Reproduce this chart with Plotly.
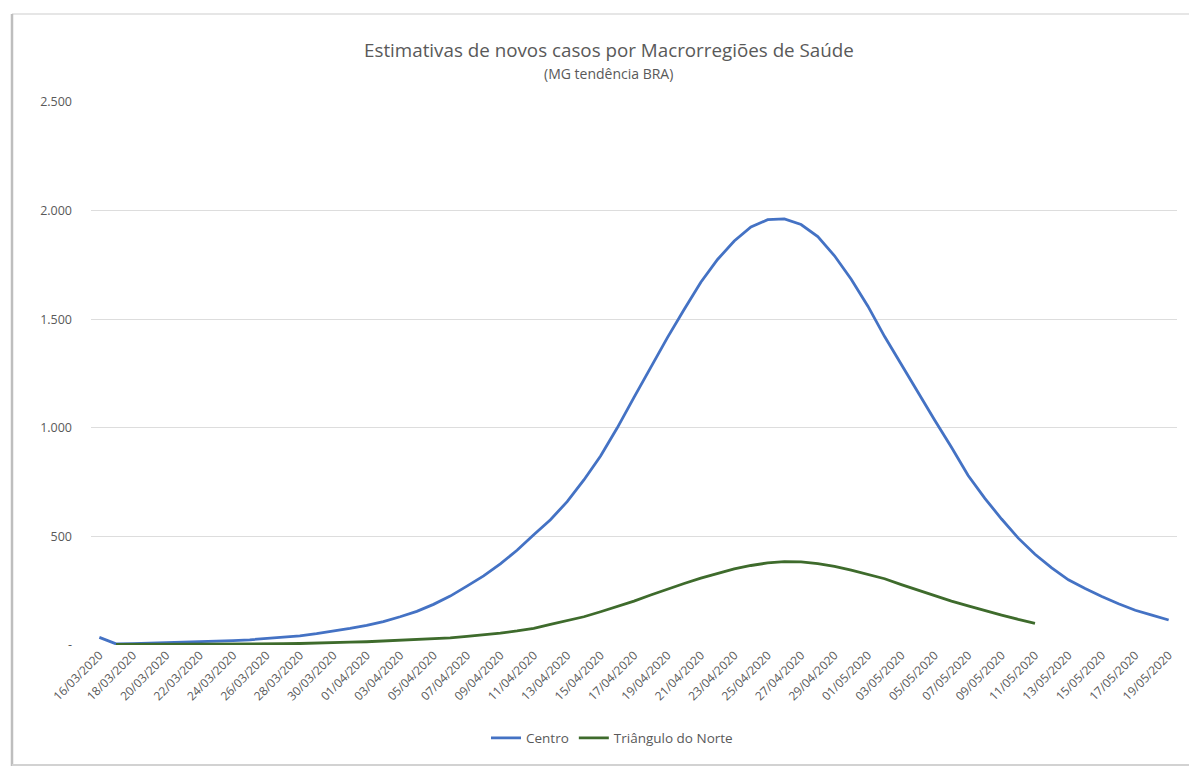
import datetime as dt
import plotly.graph_objects as go

# ---- data ----
start = dt.date(2020, 3, 16)
n_days = 65
dates = [(start + dt.timedelta(days=i)).strftime("%d/%m/%Y") for i in range(n_days)]

centro = [35, 5, 6, 8, 9, 11, 13, 16, 20, 24, 29, 35, 42, 52, 63, 76, 90, 108, 130, 155,
          187, 225, 271, 318, 374, 436, 508, 577, 660, 760, 870, 1000, 1140, 1280, 1415, 1545,
          1670, 1775, 1860, 1925, 1958, 1962, 1936, 1880, 1792, 1684, 1560, 1420, 1290, 1160,
          1035, 910, 780, 675, 580, 492, 418, 355, 300, 260, 223, 190, 160, 138, 115]

triangulo = [None, 3, 3, 3, 3, 4, 4, 4, 5, 5, 6, 6, 7, 8, 11, 13, 15, 18, 22, 25,
             28, 33, 40, 47, 55, 65, 77, 95, 112, 130, 153, 177, 202, 230, 258, 283,
             308, 330, 350, 366, 378, 384, 383, 375, 362, 345, 325, 305, 278, 252,
             227, 202, 180, 158, 138, 118, 100]

y_tickvals = [0, 500, 1000, 1500, 2000, 2500]
y_ticktext = ["-", "500", "1.000", "1.500", "2.000", "2.500"]

title_text = "Estimativas de novos casos por Macrorregiões de Saúde"
subtitle_text = "(MG tendência BRA)"

x_idx = list(range(n_days))
x_tickvals = x_idx[::2]
x_ticktext = dates[::2]

GRAY = "#595959"
FONT = "Open Sans"

# page is drawn with an 8px body offset; compensate so screen positions match
OFF = 8
FW, FH = 1197 - OFF, 767 - OFF

fig = go.Figure()
fig.add_trace(go.Scatter(x=x_idx, y=centro, mode="lines", name="Centro",
                         line=dict(color="#4472C4", width=2.8)))
fig.add_trace(go.Scatter(x=x_idx[:len(triangulo)], y=triangulo, mode="lines",
                         name="Triângulo do Norte",
                         line=dict(color="#3E6B2C", width=2.8)))

# desired screen plot area: x 91..1177, y 102..645
L, T = 91 - OFF, 102 - OFF
W, H = 1086, 543
R = FW - L - W
B = FH - T - H

def px(x):
    return (x - OFF - L) / W

def py(y):
    return (T + H - (y - OFF)) / H

fig.update_layout(
    width=FW, height=FH,
    margin=dict(l=L, r=R, t=T, b=B, autoexpand=False),
    paper_bgcolor="white", plot_bgcolor="white",
    font=dict(family=FONT, color=GRAY, size=11),
    showlegend=True,
    legend=dict(orientation="h", x=px(612), xanchor="center", y=py(738), yanchor="middle",
                font=dict(size=13.5, color=GRAY), itemwidth=30, tracegroupgap=0),
    xaxis=dict(range=[-0.5, n_days - 0.5], tickmode="array", tickvals=x_tickvals,
               ticktext=x_ticktext, tickangle=-45, showgrid=False, zeroline=False,
               showline=False, ticks="", automargin=False,
               tickfont=dict(size=12, color=GRAY)),
    yaxis=dict(range=[0, 2500], tickmode="array", tickvals=y_tickvals, ticktext=y_ticktext,
               showgrid=True, gridcolor="#DDDDDD", gridwidth=1, zeroline=False,
               showline=False, ticks="", ticklabelstandoff=18, automargin=False,
               tickfont=dict(size=12.5, color=GRAY)),
)

fig.add_annotation(text=title_text, xref="paper", yref="paper",
                   x=px(609), y=py(50), showarrow=False,
                   font=dict(size=18.8, color=GRAY, family=FONT), xanchor="center", yanchor="middle")
fig.add_annotation(text=subtitle_text, xref="paper", yref="paper",
                   x=px(608), y=py(74), showarrow=False,
                   font=dict(size=14, color=GRAY, family=FONT), xanchor="center", yanchor="middle")

# outer chart frame (left edge darker, top faint, bottom light)
fig.add_shape(type="line", xref="paper", yref="paper",
              x0=px(12), x1=px(1200), y0=py(14), y1=py(14),
              line=dict(color="#E6E6E6", width=2), layer="below")
fig.add_shape(type="line", xref="paper", yref="paper",
              x0=px(12), x1=px(12), y0=py(14), y1=py(766),
              line=dict(color="#BEBEBE", width=2.5), layer="below")
fig.add_shape(type="line", xref="paper", yref="paper",
              x0=px(12), x1=px(1200), y0=py(765), y1=py(765),
              line=dict(color="#D2D2D2", width=2), layer="below")

fig.write_html("out.html")
